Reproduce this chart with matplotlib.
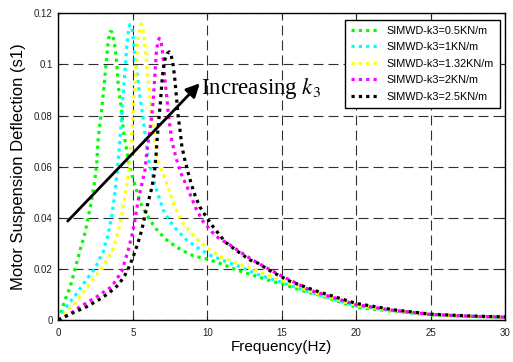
import matplotlib
matplotlib.use('Agg')
import matplotlib.pyplot as plt

plt.rcParams['font.family'] = ['Liberation Sans', 'DejaVu Sans']
plt.rcParams['mathtext.fontset'] = 'stix'

# values (frequency in Hz, deflection in s1)
f_05 = [0, 0.45, 0.8, 1.17, 1.46, 1.79, 2.0, 2.24, 2.46, 2.58, 2.69, 2.91, 3.09, 3.25, 3.36, 3.47,
        3.58, 3.68, 3.78, 3.92, 4.03, 4.25, 4.36, 4.59, 4.81, 5.15, 5.48, 5.93, 6.38, 6.71, 7.28, 7.95,
        8.84, 9.5, 10.0, 10.85, 11.97, 12.87, 14.43, 15.0, 16.2, 17.5, 20, 22.5, 25, 27.5, 30]
v_05 = [0, 0.0078, 0.013, 0.0209, 0.0274, 0.034, 0.040, 0.047, 0.055, 0.0613, 0.0717, 0.0822,
        0.0926, 0.103, 0.1095, 0.1128, 0.1128, 0.111, 0.1078, 0.1005, 0.0913, 0.0822, 0.0744, 0.0665,
        0.0594, 0.0528, 0.0463, 0.0411, 0.0372, 0.0346, 0.0313, 0.0285, 0.0256, 0.0245, 0.0238,
        0.0222, 0.0196, 0.0179, 0.0150, 0.0142, 0.0118, 0.0098, 0.0050, 0.0034, 0.0020, 0.0014, 0.0011]

f_1 = [0, 0.45, 1.12, 1.79, 2.46, 3.02, 3.36, 3.58, 3.8, 3.97, 4.14, 4.25, 4.36, 4.48, 4.59,
       4.7, 4.8, 4.9, 5.0, 5.1, 5.26, 5.48, 5.71, 5.93, 6.04, 6.27, 6.49, 6.71, 7.05, 7.5, 8.05,
       8.62, 9.29, 10.18, 11.3, 12.3, 13.5, 15.1, 16.9, 20, 22.5, 25, 27.5, 30]
v_1 = [0, 0.0045, 0.0095, 0.015, 0.0202, 0.0267, 0.0339, 0.0404, 0.0496, 0.059, 0.0705, 0.0796,
       0.0887, 0.0978, 0.1065, 0.1125, 0.1155, 0.1152, 0.1118, 0.1055, 0.0978, 0.0874, 0.0783,
       0.0678, 0.0630, 0.0580, 0.0528, 0.0489, 0.043, 0.0385, 0.0346, 0.0313, 0.0285, 0.0254,
       0.0228, 0.0206, 0.0176, 0.0145, 0.0108, 0.0055, 0.0036, 0.0021, 0.0015, 0.0011]

f_132 = [0, 0.5, 1.12, 2.13, 3.02, 3.69, 4.14, 4.48, 4.7, 4.81, 4.93, 5.03, 5.15, 5.26, 5.37,
         5.47, 5.57, 5.67, 5.77, 5.89, 5.97, 6.1, 6.2, 6.33, 6.49, 6.6, 6.8, 7.16, 7.5, 7.83, 8.28,
         8.84, 9.5, 10.07, 10.85, 11.97, 13.2, 14.88, 16.67, 20, 22.5, 25, 27.5, 30]
v_132 = [0, 0.003, 0.0065, 0.0144, 0.0209, 0.0281, 0.0372, 0.0483, 0.0574, 0.0613, 0.0717,
         0.0822, 0.0926, 0.1018, 0.1096, 0.1140, 0.1158, 0.1148, 0.1100, 0.103, 0.0966, 0.09,
         0.0835, 0.077, 0.0704, 0.0645, 0.0605, 0.0555, 0.0496, 0.0443, 0.0385, 0.0346, 0.0306,
         0.0281, 0.0248, 0.0222, 0.0196, 0.0157, 0.0117, 0.0057, 0.0037, 0.0021, 0.0015, 0.0011]

f_2 = [0, 0.7, 1.46, 2.58, 3.58, 4.25, 4.7, 5.03, 5.37, 5.82, 5.93, 6.15, 6.27, 6.38, 6.49, 6.58,
       6.68, 6.78, 6.88, 6.98, 7.07, 7.16, 7.28, 7.38, 7.5, 7.61, 7.83, 8.05, 8.3, 8.62, 8.95, 9.29,
       9.73, 10.3, 10.63, 11.52, 12.53, 13.42, 14.88, 16.9, 20, 22.5, 25, 27.5, 30]
v_2 = [0, 0.002, 0.0052, 0.0091, 0.013, 0.0189, 0.0274, 0.0352, 0.047, 0.0587, 0.0652, 0.0744,
       0.0796, 0.0861, 0.0966, 0.1044, 0.1088, 0.1102, 0.1095, 0.1058, 0.1005, 0.0939, 0.0874,
       0.0809, 0.0757, 0.0704, 0.0652, 0.0605, 0.0565, 0.0525, 0.0478, 0.043, 0.0385, 0.0346,
       0.0326, 0.0294, 0.0254, 0.0222, 0.0176, 0.0117, 0.006, 0.0038, 0.0022, 0.0015, 0.0011]

f_25 = [0, 0.67, 1.9, 2.68, 3.36, 4.03, 4.48, 4.81, 5.03, 5.26, 5.48, 5.71, 5.82, 6.04, 6.27,
        6.45, 6.55, 6.65, 6.75, 6.85, 6.95, 7.05, 7.15, 7.3, 7.45, 7.58, 7.72, 7.83, 7.95, 8.05,
        8.17, 8.3, 8.5, 8.7, 8.95, 9.2, 9.5, 9.85, 10.3, 10.6, 11.19, 12.08, 12.87, 13.42, 14.32,
        15.0, 15.33, 16.78, 17.5, 20, 22.5, 25, 27.5, 30]
v_25 = [0, 0.002, 0.0052, 0.0078, 0.0104, 0.0137, 0.0176, 0.0215, 0.0248, 0.0287, 0.0326, 0.0378,
        0.0411, 0.0463, 0.0515, 0.0575, 0.0635, 0.0717, 0.0783, 0.0848, 0.0926, 0.0985, 0.1018,
        0.1042, 0.1049, 0.1035, 0.0995, 0.0939, 0.0861, 0.0796, 0.0744, 0.0678, 0.0626, 0.058,
        0.0528, 0.0485, 0.0443, 0.0411, 0.0372, 0.035, 0.0306, 0.0267, 0.0235, 0.0222, 0.0189,
        0.0169, 0.0157, 0.0125, 0.011, 0.0065, 0.004, 0.0023, 0.0016, 0.0012]

labels = ['SIMWD-k3=0.5KN/m', 'SIMWD-k3=1KN/m', 'SIMWD-k3=1.32KN/m',
          'SIMWD-k3=2KN/m', 'SIMWD-k3=2.5KN/m']
colors = ['#00ff00', '#00ffff', '#ffff00', '#ff00ff', '#000000']
series = [(f_05, v_05), (f_1, v_1), (f_132, v_132), (f_2, v_2), (f_25, v_25)]

fig = plt.figure(figsize=(5.13, 3.62), dpi=100)
ax = fig.add_axes([0.1137, 0.116, 0.8707, 0.8473])

for (f, v), c, lab in zip(series, colors, labels):
    ax.plot(f, v, color=c, lw=2.3, linestyle=(0, (1, 1.3)), label=lab)

ax.set_xlim(0, 30)
ax.set_ylim(0, 0.12)
ax.set_xticks([0, 5, 10, 15, 20, 25, 30])
ax.set_yticks([0, 0.02, 0.04, 0.06, 0.08, 0.1, 0.12])
ax.set_yticklabels(['0', '0.02', '0.04', '0.06', '0.08', '0.1', '0.12'])
ax.grid(True, color='#303030', lw=0.8, linestyle=(0, (9, 4.5)))
ax.tick_params(direction='in', top=True, right=True, length=3, width=0.8,
               labelsize=7, pad=4, colors='#222222')
ax.tick_params(axis='x', pad=6)
for s in ax.spines.values():
    s.set_linewidth(1.0)

ax.set_xlabel('Frequency(Hz)', fontsize=11, labelpad=1)
ax.set_ylabel('Motor Suspension Deflection (s1)', fontsize=12, labelpad=6)

ax.annotate('', xy=(9.5, 0.0926), xytext=(0.63, 0.0387),
            arrowprops=dict(arrowstyle='-|>', color='k', lw=2, mutation_scale=20,
                            shrinkA=0, shrinkB=0))
ax.text(9.6, 0.0883, r'Increasing $k_3$', fontsize=16.5, family='Liberation Serif',
        va='baseline', ha='left')

leg = ax.legend(loc='upper right', bbox_to_anchor=(0.989, 0.979), borderaxespad=0,
                fontsize=7.8, handlelength=2.6, handletextpad=0.7, labelspacing=0.6,
                fancybox=False, framealpha=1, edgecolor='k', borderpad=0.55)
leg.get_frame().set_linewidth(1.0)

fig.savefig('out.png', dpi=100)
